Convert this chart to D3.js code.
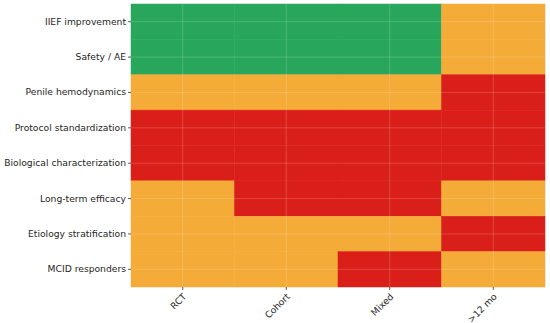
<!DOCTYPE html>
<html>
<head>
<meta charset="utf-8">
<script src="https://cdn.jsdelivr.net/npm/d3@7"></script>
<style>
  body { margin: 0; background: #fff; }
  text { font-family: "DejaVu Sans", sans-serif; }
</style>
</head>
<body>
<div id="chart"></div>
<script>
var rows = ["IIEF improvement", "Safety / AE", "Penile hemodynamics", "Protocol standardization",
  "Biological characterization", "Long-term efficacy", "Etiology stratification", "MCID responders"];
var cols = ["RCT", "Cohort", "Mixed", ">12 mo"];

// 0 = red, 1 = orange, 2 = green
var grades = [
  [2, 2, 2, 1],
  [2, 2, 2, 1],
  [1, 1, 1, 0],
  [0, 0, 0, 0],
  [0, 0, 0, 0],
  [1, 0, 0, 1],
  [1, 1, 1, 0],
  [1, 1, 0, 1]
];

var margin = {top: 4, right: 5, bottom: 36, left: 131},
  width = 550 - margin.left - margin.right,
  height = 323 - margin.top - margin.bottom;

var x = d3.scaleBand().domain(cols).range([0, width]),
  y = d3.scaleBand().domain(rows).range([0, height]);

var color = d3.scaleOrdinal().domain([0, 1, 2]).range(["#da1f1a", "#f4ab38", "#28a65b"]);

var svg = d3.select("#chart")
  .append("svg")
  .attr("width", 550)
  .attr("height", 323)
  .append("g")
  .attr("transform", "translate(" + margin.left + "," + margin.top + ")");

var cells = [];
grades.forEach(function(r, i) {
  r.forEach(function(v, j) { cells.push({row: rows[i], col: cols[j], v: v}); });
});

svg.selectAll("rect.cell")
  .data(cells)
  .enter().append("rect")
  .attr("class", "cell")
  .attr("x", function(d) { return x(d.col); })
  .attr("y", function(d) { return y(d.row); })
  .attr("width", x.bandwidth())
  .attr("height", y.bandwidth())
  .attr("fill", function(d) { return color(d.v); })
  .attr("stroke", function(d) { return color(d.v); })
  .attr("stroke-width", 0.5);

// faint grid at tick positions
svg.selectAll("line.vg")
  .data(cols)
  .enter().append("line")
  .attr("x1", function(d) { return x(d) + x.bandwidth() / 2; })
  .attr("x2", function(d) { return x(d) + x.bandwidth() / 2; })
  .attr("y1", 0).attr("y2", height)
  .attr("stroke", "#fff").attr("stroke-opacity", 0.22).attr("stroke-width", 0.8);

svg.selectAll("line.hg")
  .data(rows)
  .enter().append("line")
  .attr("y1", function(d) { return y(d) + y.bandwidth() / 2; })
  .attr("y2", function(d) { return y(d) + y.bandwidth() / 2; })
  .attr("x1", 0).attr("x2", width)
  .attr("stroke", "#fff").attr("stroke-opacity", 0.22).attr("stroke-width", 0.8);

var yAxis = svg.append("g")
  .call(d3.axisLeft(y).tickSize(3).tickPadding(2));
yAxis.select(".domain").remove();
yAxis.selectAll("text").attr("font-size", "9.2px").attr("fill", "#262626");
yAxis.selectAll("line").attr("stroke", "#333").attr("stroke-width", 0.8);

var xAxis = svg.append("g")
  .attr("transform", "translate(0," + height + ")")
  .call(d3.axisBottom(x).tickSize(3).tickPadding(3));
xAxis.select(".domain").remove();
xAxis.selectAll("line").attr("stroke", "#333").attr("stroke-width", 0.8);
xAxis.selectAll("text")
  .attr("font-size", "9.2px")
  .attr("fill", "#262626")
  .attr("text-anchor", "end")
  .attr("x", 0)
  .attr("y", 0)
  .attr("dy", "0.35em")
  .attr("transform", "translate(2,8) rotate(-45)");
</script>
</body>
</html>
